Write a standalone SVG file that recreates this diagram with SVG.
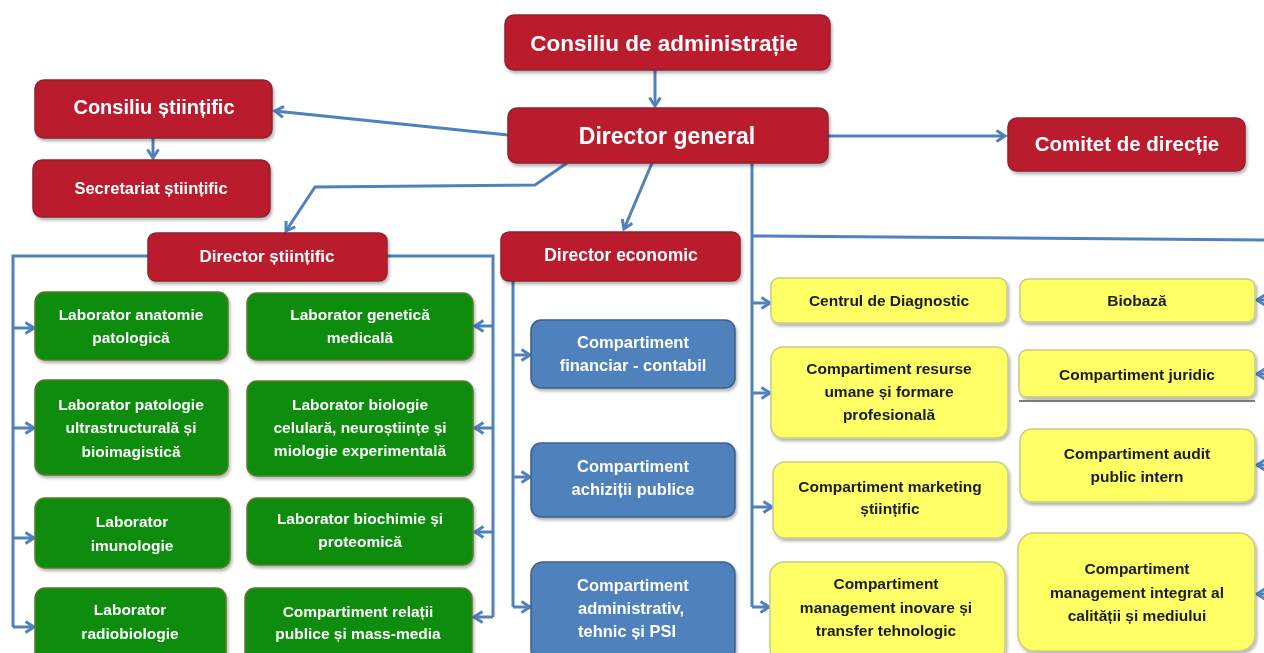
<svg xmlns="http://www.w3.org/2000/svg" width="1264" height="653" viewBox="0 0 1264 653">
<style>
text{font-family:"Liberation Sans",Arial,sans-serif;font-weight:bold;text-anchor:middle}
.red rect{fill:#BA1E2F;stroke:#8E2430;stroke-width:1.5}
.grn rect{fill:#0A8C0A;stroke:#5E7A2A;stroke-width:1.5}
.blu rect{fill:#4F81BD;stroke:#3A5F8A;stroke-width:1.5}
.yel rect{fill:#FFFF66;stroke:#C6CC86;stroke-width:1.5}
.red text,.grn text,.blu text{fill:#FFFFFF}
.yel text{fill:#1A1A1A;font-size:15.5px}
.grn text{font-size:15.5px}
.blu text{font-size:16.5px}
.node{filter:url(#sh)}
#connectors path{fill:none;stroke:#4F81BD;stroke-width:3;marker-end:url(#arr)}
#connectors path.plain{marker-end:none}
</style>
<defs>
<marker id="arr" markerWidth="14" markerHeight="14" refX="10" refY="7" orient="auto" markerUnits="userSpaceOnUse">
<path d="M1.5,1.5 L10,7 L1.5,12.5" fill="none" stroke="#4F81BD" stroke-width="3"/>
</marker>
<filter id="sh" x="-10%" y="-10%" width="130%" height="140%">
<feDropShadow dx="1.5" dy="2.5" stdDeviation="1.5" flood-color="#000" flood-opacity="0.3"/>
</filter>
</defs>
<rect width="1264" height="653" fill="#FFFFFF"/>

<g id="connectors">
<path d="M655,70 V106"/>
<path d="M508,135 L275,111"/>
<path d="M153,138 V158"/>
<path d="M828,136 H1005"/>
<path d="M567,163 L535,185 L315,187 L286,231"/>
<path d="M652,163 L624,229"/>
<path class="plain" d="M752,163 V607"/>
<path class="plain" d="M752,236 L1270,240"/>
<path class="plain" d="M148,256 H13 V627"/>
<path d="M13,328 H34"/>
<path d="M13,428 H34"/>
<path d="M13,538 H34"/>
<path d="M13,627 H34"/>
<path class="plain" d="M387,256 H493 V617"/>
<path d="M493,326 H475"/>
<path d="M493,428 H475"/>
<path d="M493,532 H475"/>
<path d="M493,617 H474"/>
<path class="plain" d="M513,281 V607"/>
<path d="M513,355 H530"/>
<path d="M513,477 H530"/>
<path d="M513,607 H530"/>
<path d="M752,303 H770"/>
<path d="M752,393 H770"/>
<path d="M752,507 H772"/>
<path d="M752,607 H769"/>
<path d="M1275,300 H1257"/>
<path d="M1275,374 H1257"/>
<path d="M1275,465 H1257"/>
<path d="M1275,594 H1257"/>
</g>

<g id="n-cda" class="node red"><rect x="505" y="15" width="325" height="55" rx="9"/><text x="664" y="51" font-size="22.5">Consiliu  de administrație</text></g>
<g id="n-dg" class="node red"><rect x="508" y="108" width="320" height="55" rx="9"/><text x="667" y="144" font-size="23">Director general</text></g>
<g id="n-cs" class="node red"><rect x="35" y="80" width="237" height="58" rx="9"/><text x="154" y="114" font-size="20">Consiliu științific</text></g>
<g id="n-ss" class="node red"><rect x="33" y="160" width="237" height="57" rx="9"/><text x="151" y="194" font-size="16.5">Secretariat științific</text></g>
<g id="n-cd" class="node red"><rect x="1008" y="118" width="237" height="53" rx="9"/><text x="1127" y="151" font-size="20.5">Comitet de direcție</text></g>
<g id="n-ds" class="node red"><rect x="148" y="233" width="239" height="48" rx="8"/><text x="267" y="262" font-size="17">Director științific</text></g>
<g id="n-de" class="node red"><rect x="501" y="232" width="239" height="49" rx="8"/><text x="621" y="261" font-size="17.5">Director economic</text></g>

<g id="n-g1" class="node grn"><rect x="35" y="292" width="193" height="68" rx="10"/><text x="131" y="320">Laborator anatomie</text><text x="131" y="343">patologică</text></g>
<g id="n-g2" class="node grn"><rect x="247" y="293" width="226" height="67" rx="10"/><text x="360" y="320">Laborator genetică</text><text x="360" y="343">medicală</text></g>
<g id="n-g3" class="node grn"><rect x="35" y="380" width="193" height="95" rx="10"/><text x="131" y="410">Laborator patologie</text><text x="131" y="433">ultrastructurală și</text><text x="131" y="457">bioimagistică</text></g>
<g id="n-g4" class="node grn"><rect x="247" y="381" width="226" height="95" rx="10"/><text x="360" y="410">Laborator biologie</text><text x="360" y="433">celulară, neuroștiințe și</text><text x="360" y="456">miologie experimentală</text></g>
<g id="n-g5" class="node grn"><rect x="35" y="498" width="195" height="70" rx="10"/><text x="132" y="527">Laborator</text><text x="132" y="551">imunologie</text></g>
<g id="n-g6" class="node grn"><rect x="247" y="498" width="226" height="67" rx="10"/><text x="360" y="524">Laborator biochimie și</text><text x="360" y="547">proteomică</text></g>
<g id="n-g7" class="node grn"><rect x="35" y="588" width="191" height="75" rx="10"/><text x="130" y="615">Laborator</text><text x="130" y="639">radiobiologie</text></g>
<g id="n-g8" class="node grn"><rect x="245" y="588" width="227" height="75" rx="10"/><text x="358" y="617">Compartiment relații</text><text x="358" y="639">publice și mass-media</text></g>

<g id="n-b1" class="node blu"><rect x="531" y="320" width="204" height="68" rx="10"/><text x="633" y="348">Compartiment</text><text x="633" y="371">financiar - contabil</text></g>
<g id="n-b2" class="node blu"><rect x="531" y="443" width="204" height="74" rx="10"/><text x="633" y="472">Compartiment</text><text x="633" y="495">achiziții publice</text></g>
<g id="n-b3" class="node blu"><rect x="531" y="562" width="204" height="100" rx="12"/><text x="577" y="591" style="text-anchor:start">Compartiment</text><text x="578" y="614" style="text-anchor:start">administrativ,</text><text x="578" y="637" style="text-anchor:start">tehnic și PSI</text></g>

<g id="n-y1" class="node yel"><rect x="771" y="278" width="236" height="45" rx="8"/><text x="889" y="306">Centrul de Diagnostic</text></g>
<g id="n-y2" class="node yel"><rect x="1020" y="279" width="235" height="43" rx="8"/><text x="1137" y="306">Biobază</text></g>
<g id="n-y3" class="node yel"><rect x="771" y="347" width="237" height="91" rx="12"/><text x="889" y="374">Compartiment resurse</text><text x="889" y="397">umane și formare</text><text x="889" y="420">profesională</text></g>
<g id="n-y4" class="node yel"><rect x="1019" y="350" width="236" height="47" rx="8"/><text x="1137" y="380">Compartiment juridic</text></g>
<path d="M1019,401 H1255" stroke="#555555" stroke-width="1.5"/>
<g id="n-y5" class="node yel"><rect x="773" y="462" width="235" height="76" rx="12"/><text x="890" y="492">Compartiment marketing</text><text x="890" y="514">științific</text></g>
<g id="n-y6" class="node yel"><rect x="1020" y="429" width="235" height="73" rx="12"/><text x="1137" y="459">Compartiment audit</text><text x="1137" y="482">public intern</text></g>
<g id="n-y7" class="node yel"><rect x="770" y="562" width="235" height="100" rx="14"/><text x="886" y="589">Compartiment</text><text x="886" y="613">management inovare și</text><text x="886" y="636">transfer tehnologic</text></g>
<g id="n-y8" class="node yel"><rect x="1018" y="533" width="237" height="118" rx="16"/><text x="1137" y="574">Compartiment</text><text x="1137" y="598">management integrat al</text><text x="1137" y="621">calității și mediului</text></g>
</svg>
